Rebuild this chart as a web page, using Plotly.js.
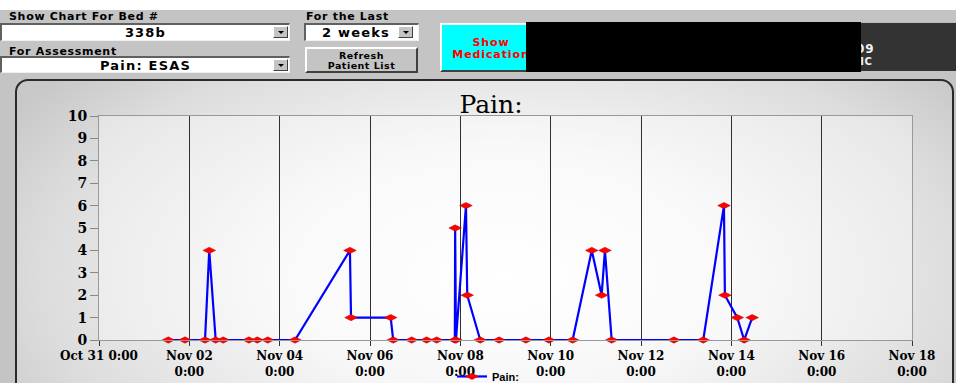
<!DOCTYPE html>
<html>
<head>
<meta charset="utf-8">
<script src="https://cdn.plot.ly/plotly-3.0.1.min.js"></script>
<style>
  html, body { margin:0; padding:0; }
  body { width:956px; height:383px; overflow:hidden; position:relative; background:#c4c4c4; font-family:"DejaVu Sans", sans-serif; }
  .abs { position:absolute; }
  .lbl { font-weight:bold; font-size:11px; letter-spacing:0.7px; color:#000; white-space:nowrap; }
  .field { background:#fff; box-sizing:border-box; border-top:2px solid #606060; border-left:2px solid #606060; border-bottom:1px solid #f0f0f0; border-right:1px solid #f0f0f0; font-weight:bold; font-size:13px; letter-spacing:1.2px; text-align:center; color:#000; white-space:nowrap; }
  .arrow { background:#c4c4c4; box-sizing:border-box; border-top:1px solid #fff; border-left:1px solid #fff; border-bottom:1px solid #404040; border-right:1px solid #404040; }
  .arrow:after { content:""; position:absolute; left:50%; top:50%; margin-left:-3px; margin-top:-1px; border-left:3px solid transparent; border-right:3px solid transparent; border-top:3px solid #000; }
  .btn { box-sizing:border-box; border-top:2px solid #fff; border-left:2px solid #fff; border-bottom:2px solid #404040; border-right:2px solid #404040; text-align:center; font-weight:bold; white-space:nowrap; }
  #panel { left:15px; top:79px; width:939px; height:330px; box-sizing:border-box; border:2px solid #2a2a2a; border-radius:13px;
    background: radial-gradient(ellipse 62% 95% at 52% 60%, #ffffff 0%, #f6f6f6 40%, #dcdcdc 80%, #c8c8c8 100%); }
  #chart { left:0; top:0; width:956px; height:383px; }
</style>
</head>
<body>
<div class="abs" style="left:0;top:0;width:956px;height:10px;background:#fff;"></div>

<div class="abs lbl" style="left:9px;top:10px;">Show Chart For Bed #</div>
<div class="abs field" style="left:0;top:23px;width:290px;height:18px;line-height:15px;">338b</div>
<div class="abs arrow" style="left:273px;top:26px;width:15px;height:12px;"></div>

<div class="abs lbl" style="left:9px;top:45px;">For Assessment</div>
<div class="abs field" style="left:0;top:56px;width:290px;height:17px;line-height:15px;">Pain: ESAS</div>
<div class="abs arrow" style="left:273px;top:59px;width:15px;height:12px;"></div>

<div class="abs lbl" style="left:306px;top:10px;">For the Last</div>
<div class="abs field" style="left:304px;top:23px;width:115px;height:18px;line-height:15px;text-align:left;padding-left:16px;">2 weeks</div>
<div class="abs arrow" style="left:398px;top:26px;width:15px;height:12px;"></div>

<div class="abs btn" style="left:305px;top:47px;width:113px;height:26px;background:#c4c4c4;font-size:9.5px;letter-spacing:0.5px;line-height:10px;padding-top:2px;">Refresh<br>Patient List</div>

<div class="abs btn" style="left:440px;top:23px;width:102px;height:49px;background:#00ffff;color:#ff0000;font-size:11px;letter-spacing:0.9px;line-height:12px;padding-top:12px;">Show<br>Medication</div>

<div class="abs" style="left:861px;top:22px;width:95px;height:49px;background:#333;border-top:1px solid #bbb;box-sizing:border-box;"></div>
<div class="abs" style="left:856px;top:42px;color:#f0f0f0;font-weight:bold;font-size:12px;letter-spacing:1px;">09</div>
<div class="abs" style="left:853px;top:56px;color:#f0f0f0;font-weight:bold;font-size:10px;letter-spacing:0.5px;">FIC</div>
<div class="abs" style="left:526px;top:22px;width:335px;height:50px;background:#000;"></div>

<div class="abs" id="panel"></div>
<div class="abs" id="chart"></div>

<script>
// Pain score readings (date/time, value)
var times = [
  '2006-11-01 12:50', '2006-11-01 21:40', '2006-11-02 08:20', '2006-11-02 10:35',
  '2006-11-02 14:00', '2006-11-02 18:00', '2006-11-03 07:40', '2006-11-03 12:05',
  '2006-11-03 17:40', '2006-11-04 08:10', '2006-11-05 13:20', '2006-11-05 13:55',
  '2006-11-06 11:00', '2006-11-06 12:20', '2006-11-06 22:10', '2006-11-07 06:05',
  '2006-11-07 11:25', '2006-11-07 21:05', '2006-11-07 21:15', '2006-11-07 21:40',
  '2006-11-08 03:00', '2006-11-08 03:40', '2006-11-08 10:35', '2006-11-08 20:35',
  '2006-11-09 10:50', '2006-11-09 23:05', '2006-11-10 11:40', '2006-11-10 21:50',
  '2006-11-11 03:05', '2006-11-11 04:50', '2006-11-11 08:25', '2006-11-12 17:30',
  '2006-11-13 09:05', '2006-11-13 20:05', '2006-11-13 20:35', '2006-11-14 03:10',
  '2006-11-14 06:50', '2006-11-14 11:05'
];
var painValues = [
  0, 0, 0, 4,
  0, 0, 0, 0,
  0, 0, 4, 1,
  1, 0, 0, 0,
  0, 0, 5, 0,
  6, 2, 0, 0,
  0, 0, 0, 4,
  2, 4, 0, 0,
  0, 6, 2, 1,
  0, 1
];
var xTickVals = ['2006-10-31', '2006-11-02', '2006-11-04', '2006-11-06', '2006-11-08',
                 '2006-11-10', '2006-11-12', '2006-11-14', '2006-11-16', '2006-11-18'];
var xTickText = ['Oct 31 0:00', 'Nov 02<br>0:00', 'Nov 04<br>0:00', 'Nov 06<br>0:00', 'Nov 08<br>0:00',
                 'Nov 10<br>0:00', 'Nov 12<br>0:00', 'Nov 14<br>0:00', 'Nov 16<br>0:00', 'Nov 18<br>0:00'];
var yTickVals = [0, 1, 2, 3, 4, 5, 6, 7, 8, 9, 10];

var trace = {
  x: times, y: painValues, type: 'scatter', mode: 'lines+markers', name: 'Pain:',
  line: { color: '#0000ff', width: 2.2 },
  marker: { symbol: 'diamond-wide', size: 9, color: '#ff0000', line: { color: '#c00000', width: 0.5 } },
  cliponaxis: false
};

var serifBold = { family: 'DejaVu Serif, serif', size: 12, color: '#000', weight: 'bold' };

var layout = {
  width: 956, height: 383,
  margin: { l: 99, r: 44, t: 116, b: 43, autoexpand: false },
  paper_bgcolor: 'rgba(0,0,0,0)',
  plot_bgcolor: 'rgba(255,255,255,0.35)',
  title: { text: 'Pain:', x: 491/956, xanchor: 'center', xref: 'container', y: 1 - 104/383, yanchor: 'middle', yref: 'container',
           font: { family: 'DejaVu Serif, serif', size: 25, color: '#000' } },
  xaxis: {
    type: 'date', range: ['2006-10-31', '2006-11-18'],
    tickmode: 'array', tickvals: xTickVals, ticktext: xTickText,
    showgrid: true, gridcolor: '#303030', gridwidth: 1,
    ticks: 'outside', ticklen: 5, tickcolor: '#333', tickwidth: 1,
    showline: true, mirror: true, linecolor: '#999', linewidth: 1,
    zeroline: false, tickfont: serifBold, tickangle: 0
  },
  yaxis: {
    range: [0, 10], tickmode: 'array', tickvals: yTickVals,
    showgrid: false, zeroline: false,
    ticks: 'outside', ticklen: 8, tickcolor: '#888', tickwidth: 1,
    showline: true, mirror: true, linecolor: '#999', linewidth: 1,
    tickfont: { family: 'DejaVu Serif, serif', size: 14, color: '#000', weight: 'bold' }
  },
  showlegend: true,
  legend: { orientation: 'h', x: (452-99)/813, xanchor: 'left', y: -0.098, yanchor: 'top',
            bgcolor: 'rgba(0,0,0,0)', font: { family: 'Liberation Sans, Arial, sans-serif', size: 11, color: '#000', weight: 'bold' } }
};

Plotly.newPlot('chart', [trace], layout, { displayModeBar: false, staticPlot: true });
</script>
</body>
</html>
